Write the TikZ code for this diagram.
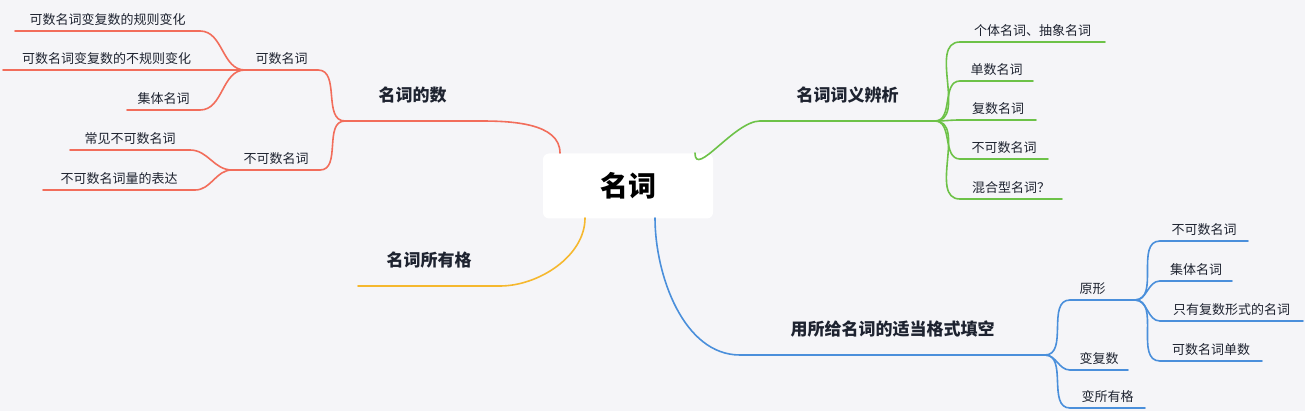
\documentclass[tikz,border=0pt]{standalone}
\usepackage{fontspec}
\newfontfamily\cjk{Noto Sans CJK SC}
\definecolor{bg}{HTML}{F5F5F8}
\definecolor{cr}{HTML}{F26D5B}
\definecolor{cg}{HTML}{6DC248}
\definecolor{cy}{HTML}{F5B82E}
\definecolor{cb}{HTML}{4A8FDB}
\definecolor{tx}{HTML}{1E2330}
\tikzset{
 lk/.style={line width=1.6pt,line cap=round},
 sm/.style={font=\cjk\fontsize{13}{15}\selectfont,text=tx,inner sep=0pt,anchor=south},
 bg1/.style={font=\cjk\bfseries\fontsize{17}{19}\selectfont,text=tx,inner sep=0pt,anchor=south},
}
% \lf{name}{x1}{x2}{y}{color}{style}{text}{textgap}
\newcommand\lf[8]{%
 \coordinate (#1w) at (#2,#4);\coordinate (#1e) at (#3,#4);
 \draw[lk,#5] (#1w)--(#1e);
 \node[#6] (#1) at ({(#2+#3)/2},{#4-#8}) {#7};}
\begin{document}
\begin{tikzpicture}[x=1pt,y=-1pt]
\fill[bg] (0,0) rectangle (1305,411);
\useasboundingbox (0,0) rectangle (1305,411);
\node[fill=white,rounded corners=6pt,minimum width=170,minimum height=65,font=\cjk\bfseries\fontsize{28}{30}\selectfont,text=black] (root) at (628,186) {名词};
% red
\lf{num}{345}{480}{121}{cr}{bg1}{名词的数}{18}
\lf{cnt}{245}{318}{70}{cr}{sm}{可数名词}{5}
\lf{unc}{232}{320}{170}{cr}{sm}{不可数名词}{5}
\lf{r1}{15}{200}{31}{cr}{sm}{可数名词变复数的规则变化}{5}
\lf{r2}{3}{210}{70}{cr}{sm}{可数名词变复数的不规则变化}{5}
\lf{r3}{127}{200}{110}{cr}{sm}{集体名词}{5}
\lf{r4}{70}{190}{150}{cr}{sm}{常见不可数名词}{5}
\lf{r5}{43}{195}{190}{cr}{sm}{不可数名词量的表达}{5}
\draw[lk,cr] (560,153) to[out=-90+180,in=0,looseness=0.9] (nume);
\draw[lk,cr] (numw) to[out=180,in=0] (cnte);
\draw[lk,cr] (numw) to[out=180,in=0] (unce);
\draw[lk,cr] (cntw) to[out=180,in=0] (r1e);
\draw[lk,cr] (cntw) -- (r2e);
\draw[lk,cr] (cntw) to[out=180,in=0] (r3e);
\draw[lk,cr] (uncw) to[out=180,in=0] (r4e);
\draw[lk,cr] (uncw) to[out=180,in=0] (r5e);
% green
\lf{mean}{760}{935}{121}{cg}{bg1}{名词词义辨析}{18}
\lf{g1}{960}{1105}{42}{cg}{sm}{个体名词、抽象名词}{5}
\lf{g2}{960}{1033}{81}{cg}{sm}{单数名词}{5}
\lf{g3}{960}{1036}{120}{cg}{sm}{复数名词}{5}
\lf{g4}{960}{1048}{159}{cg}{sm}{不可数名词}{5}
\lf{g5}{960}{1062}{199}{cg}{sm}{混合型名词？}{5}
\draw[lk,cg] (695,153) to[out=-90,in=180,looseness=0.9] (meanw);
\foreach \i in {1,...,5}{\draw[lk,cg] (meane) to[out=0,in=180] (g\i w);}
% yellow
\lf{poss}{358}{500}{286}{cy}{bg1}{名词所有格}{18}
\draw[lk,cy] (585,218) to[out=-90,in=0,looseness=0.9] (posse);
% blue
\lf{fill}{740}{1045}{355}{cb}{bg1}{用所给名词的适当格式填空}{18}
\lf{b1}{1070}{1115}{300}{cb}{sm}{原形}{5}
\lf{b2}{1070}{1128}{370}{cb}{sm}{变复数}{5}
\lf{b3}{1070}{1145}{408}{cb}{sm}{变所有格}{5}
\lf{c1}{1160}{1248}{241}{cb}{sm}{不可数名词}{5}
\lf{c2}{1160}{1232}{281}{cb}{sm}{集体名词}{5}
\lf{c3}{1160}{1303}{321}{cb}{sm}{只有复数形式的名词}{5}
\lf{c4}{1160}{1262}{361}{cb}{sm}{可数名词单数}{5}
\draw[lk,cb] (655,218) to[out=-90,in=180,looseness=0.9] (fillw);
\foreach \i in {1,2,3}{\draw[lk,cb] (fille) to[out=0,in=180] (b\i w);}
\coordinate (bj) at (1135,300);
\draw[lk,cb] (b1e)--(bj);
\foreach \i in {1,...,4}{\draw[lk,cb] (bj) to[out=0,in=180] (c\i w);}
\end{tikzpicture}
\end{document}
